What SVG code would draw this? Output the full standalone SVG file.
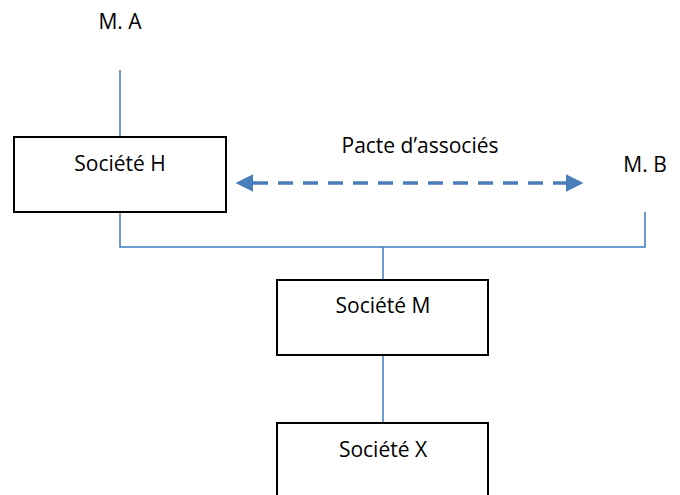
<svg xmlns="http://www.w3.org/2000/svg" width="680" height="495" viewBox="0 0 680 495">
  <style>
    .lbl { font-family: "Open Sans", "Liberation Sans", Arial, sans-serif; font-size: 21px; fill: #000; text-anchor: middle; }
    .box { fill: #fff; stroke: #000; stroke-width: 2; }
    .ln { fill: none; stroke: #3C7CC0; stroke-width: 1.5; }
    .dash { fill: none; stroke: #4A7EBB; stroke-width: 3.5; stroke-dasharray: 15 10; }
  </style>
  <defs>
    <marker id="ah" viewBox="0 0 10 10" refX="0" refY="5" markerWidth="5" markerHeight="5" markerUnits="strokeWidth" orient="auto-start-reverse">
      <path d="M0,0 L10,5 L0,10 Z" fill="#4A7EBB"/>
    </marker>
  </defs>
  <rect width="680" height="495" fill="#fff"/>

  <g id="connectors">
    <line class="ln" x1="120" y1="70" x2="120" y2="137"/>
    <polyline class="ln" points="120,212 120,247 645,247 645,212"/>
    <line class="ln" x1="383" y1="247" x2="383" y2="280"/>
    <line class="ln" x1="383" y1="355" x2="383" y2="423"/>
    <line class="dash" x1="253" y1="183" x2="566" y2="183" marker-start="url(#ah)" marker-end="url(#ah)"/>
  </g>

  <g id="ma"><text class="lbl" x="120" y="29">M. A</text></g>
  <g id="mb"><text class="lbl" x="645" y="172">M. B</text></g>
  <g id="pacte"><text class="lbl" x="420" y="153">Pacte d’associés</text></g>

  <g id="societe-h">
    <rect class="box" x="14" y="137" width="212" height="75"/>
    <text class="lbl" x="120" y="171">Société H</text>
  </g>
  <g id="societe-m">
    <rect class="box" x="277" y="280" width="211" height="75"/>
    <text class="lbl" x="383" y="313">Société M</text>
  </g>
  <g id="societe-x">
    <rect class="box" x="277" y="423" width="211" height="80"/>
    <text class="lbl" x="383" y="457">Société X</text>
  </g>
</svg>
